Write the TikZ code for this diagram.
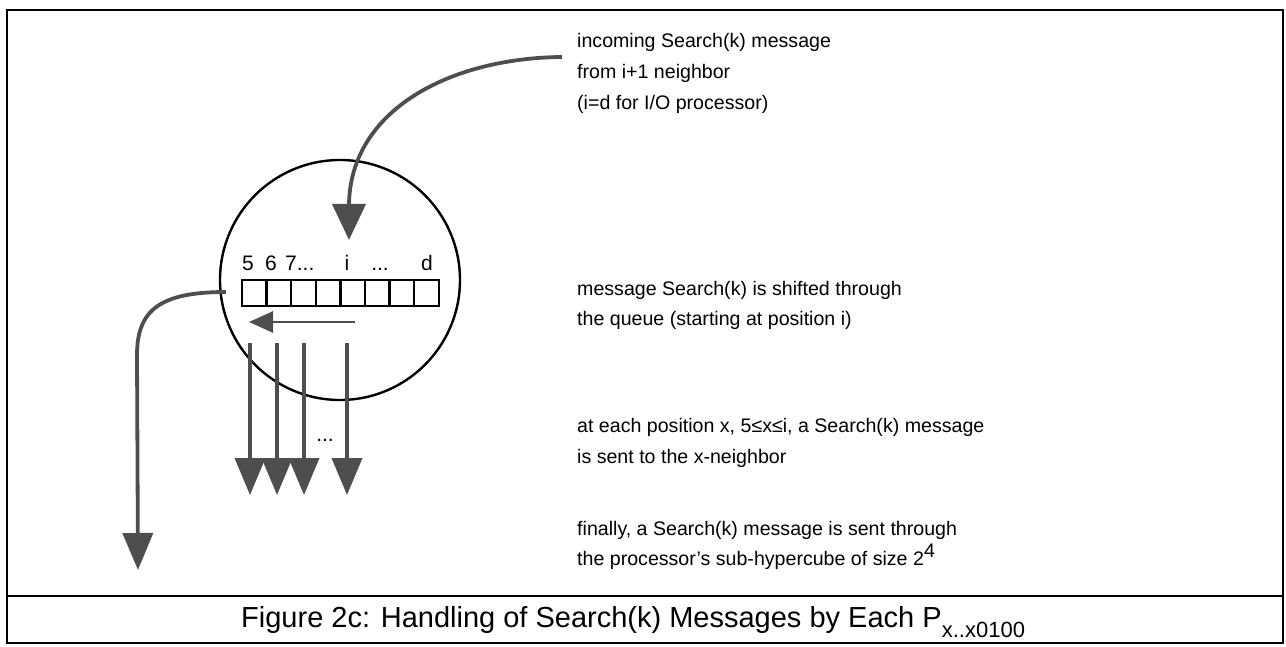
\documentclass[tikz,border=0pt]{standalone}
\usepackage{fontspec}
\setmainfont{Liberation Sans}
\usetikzlibrary{arrows.meta}
\definecolor{arr}{HTML}{4E4E4E}
\begin{document}
\begin{tikzpicture}[x=1pt,y=-1pt,
  body/.style={anchor=base west,inner sep=0pt,font=\fontsize{19.6}{23}\selectfont},
  lab/.style={anchor=base,inner sep=0pt,font=\fontsize{21}{25}\selectfont},
  cell/.style={draw,line width=2.5pt,minimum width=24.6pt,minimum height=26pt,inner sep=0pt,outer sep=0pt},
  bigarrow/.style={draw=arr,line width=3.8pt,-{Triangle[width=33pt,length=36pt,fill=arr]}},
  downarrow/.style={draw=arr,line width=3.8pt,-{Triangle[width=30pt,length=37pt,fill=arr]}},
  shiftarrow/.style={draw=arr,line width=2.8pt,-{Triangle[width=21pt,length=24pt,fill=arr]}}
]
\useasboundingbox (0,0) rectangle (1286,647);
% frame
\draw[line width=2.8pt] (7,10) rectangle (1283,643);
\draw[line width=2.8pt] (7,596) -- (1283,596);
% processor circle
\node[draw,circle,line width=2.4pt,minimum size=240pt,inner sep=0pt] (proc) at (340,280) {};
% queue cells
\foreach \i in {1,...,8}
  \node[cell] (c\i) at ({242+24.6*(\i-0.5)},293) {};
% queue labels
\node[lab] (l5) at (248,271) {5};
\node[lab] (l6) at (271,271) {6};
\node[lab,anchor=base west] (l7) at (285,271) {7...};
\node[lab] (li) at (347,271) {i};
\node[lab] (ldots) at (380,271) {...};
\node[lab] (ld) at (427,271) {d};
% incoming arrow
\coordinate (inS) at (562,57);
\coordinate (inM) at (349,205);
\coordinate (inE) at (349,240);
\draw[bigarrow] (inS) .. controls (450,58) and (350,110) .. (inM) -- (inE);
% shift arrow
\coordinate (shS) at (355,322);
\coordinate (shE) at (249,322);
\draw[shiftarrow] (shS) -- (shE);
% down arrows
\foreach \n/\x in {1/250,2/277,3/304,4/347}{
  \coordinate (d\n s) at (\x,343);
  \coordinate (d\n e) at (\x,495);
  \draw[downarrow] (d\n s) -- (d\n e);
}
\node[lab] (ddots) at (325,441) {...};
% outgoing sub-hypercube arrow
\coordinate (ouS) at (226,292);
\coordinate (ouM) at (137,355);
\coordinate (ouE) at (138,570);
\draw[downarrow] (ouS) .. controls (160,292) and (137,310) .. (ouM) -- (ouE);
% texts
\node[body] (t1a) at (577,48) {incoming Search(k) message};
\node[body] (t1b) at (577,79) {from i+1 neighbor};
\node[body] (t1c) at (577,110) {(i=d for I/O processor)};
\node[body] (t2a) at (577,295) {message Search(k) is shifted through};
\node[body] (t2b) at (577,326) {the queue (starting at position i)};
\node[body] (t3a) at (577,432) {at each position x, 5≤x≤i, a Search(k) message};
\node[body] (t3b) at (577,463) {is sent to the x-neighbor};
\node[body] (t4a) at (577,535) {finally, a Search(k) message is sent through};
\node[body] (t4b) at (577,565) {the processor's sub-hypercube of size 2\raisebox{8pt}{4}};
% caption
\node[anchor=base west,inner sep=0pt,font=\fontsize{29}{34}\selectfont] (cap) at (241,627)
  {Figure 2c: Handling of Search(k) Messages by Each P\raisebox{-10pt}{\fontsize{22}{25}\selectfont x..x0100}};
\end{tikzpicture}
\end{document}
